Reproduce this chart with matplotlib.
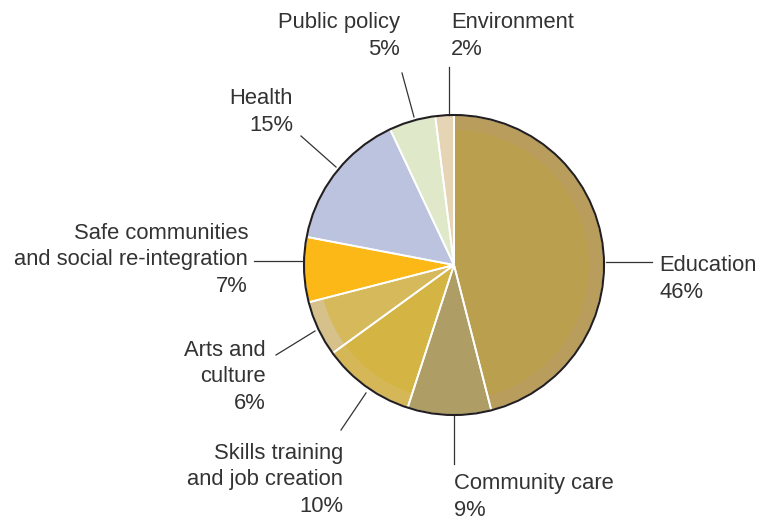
import matplotlib
matplotlib.use('Agg')
import matplotlib.pyplot as plt
from matplotlib.patches import Circle

plt.rcParams['font.family'] = ['Liberation Sans', 'DejaVu Sans']

# Data
categories = ['Education', 'Community care', 'Skills training\nand job creation',
              'Arts and\nculture', 'Safe communities\nand social re-integration',
              'Health', 'Public policy', 'Environment']
shares = [46, 9, 10, 6, 7, 15, 5, 2]
outer_colors = ['#B99D5D', '#AE9E66', '#D5B758', '#D7C18A', '#FBB817', '#BCC3DE', '#DFE8C8', '#E6D5B5']
inner_colors = ['#BA9F4F', '#AE9E66', '#D4B443', '#D6B95A', '#FBB817', '#BCC3DE', '#DFE8C8', '#E6D5B5']

W, H = 758, 521
def Y(y):
    return H - y

fig = plt.figure(figsize=(W / 100, H / 100), dpi=100)
ax = fig.add_axes([0, 0, 1, 1])

cx, cy, r = 454, Y(265), 150
common = dict(center=(cx, cy), startangle=90, counterclock=False)
ax.pie(shares, colors=outer_colors, radius=r, wedgeprops=dict(linewidth=0), **common)
ax.pie(shares, colors=inner_colors, radius=r * 0.9, wedgeprops=dict(linewidth=0), **common)
# white separators
ax.pie(shares, colors=['none'] * len(shares), radius=r,
       wedgeprops=dict(edgecolor='white', linewidth=1.3, fill=False), **common)
ax.add_patch(Circle((cx, cy), r, fill=False, edgecolor='#231F20', linewidth=1.5, zorder=5))

# label layout: text anchor, alignment, leader line (image pixel coords)
layout = [
    (659, 279, 'left', (606, 262), (652, 262)),
    (454, 497, 'left', (454, 416), (454, 464)),
    (343, 480, 'right', (366, 393), (341, 430)),
    (266, 377, 'right', (315, 331), (276, 355)),
    (248, 260, 'right', (302, 261), (254, 261)),
    (293, 112, 'right', (336, 167), (301, 136)),
    (400, 36, 'right', (414, 117), (402, 73)),
    (451, 36, 'left', (449, 115), (449, 67)),
]

for name, val, (tx, ty, ha, p0, p1) in zip(categories, shares, layout):
    ax.text(tx, Y(ty), f'{name}\n{val}%', ha=ha, va='center', fontsize=15.8,
            color='#333333', linespacing=1.33, multialignment=ha)
    ax.plot([p0[0], p1[0]], [Y(p0[1]), Y(p1[1])], color='#333333', linewidth=0.9)

ax.set_xlim(0, W)
ax.set_ylim(0, H)
ax.set_aspect('equal')
ax.axis('off')

plt.savefig('out.png', dpi=100)
plt.close()
